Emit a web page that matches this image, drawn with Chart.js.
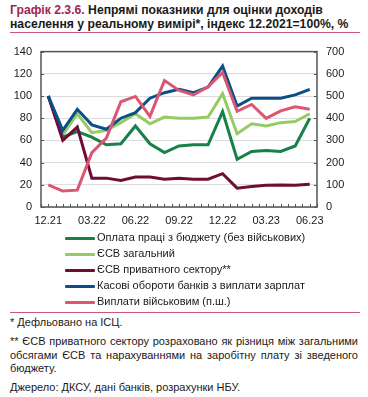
<!DOCTYPE html>
<html><head><meta charset="utf-8">
<script src="https://cdn.jsdelivr.net/npm/chart.js@4/dist/chart.umd.min.js"></script>
<style>
body{margin:0;width:368px;height:397px;background:#fff;font-family:"Liberation Sans",Arial,sans-serif;color:#1a1a1a;position:relative;overflow:hidden}
#title{position:absolute;left:10px;top:3px;font-weight:bold;font-size:12.2px;line-height:14px;width:355px}
#title .n{color:#a3234f}
.rule{position:absolute;left:10px;width:350px;height:1px;background:#c45a73}
#wrap{position:absolute;left:0;top:36px;width:368px;height:196px}
#legend{position:absolute;left:65px;top:230px;font-size:11px}
.li{position:absolute;left:0;height:16px;white-space:nowrap}
.li span.sw{position:absolute;left:0;top:7px;width:30px;height:3px;border-radius:1px}
.li span.tx{position:absolute;left:32px;top:1px}
#notes{position:absolute;left:10px;top:316px;width:348px;font-size:11px;line-height:13.5px}
#notes p{margin:0 0 5.5px 0;text-align:justify}
</style></head><body>
<div id="title"><span class="n">Графік 2.3.6.</span> Непрямі показники для оцінки доходів населення у реальному вимірі*, індекс 12.2021=100%, %</div>
<div class="rule" style="top:32px"></div>
<div id="wrap"><canvas id="c" width="368" height="196"></canvas></div>
<div id="legend"></div>
<div class="rule" style="top:312px"></div>
<div id="notes">
<p>* Дефльовано на ІСЦ.</p>
<p>** ЄСВ приватного сектору розраховано як різниця між загальними обсягами ЄСВ та нарахуваннями на заробітну плату зі зведеного бюджету.</p>
<p>Джерело: ДКСУ, дані банків, розрахунки НБУ.</p>
</div>
<script>
const categories = ["12.21","01.22","02.22","03.22","04.22","05.22","06.22","07.22","08.22","09.22","10.22","11.22","12.22","01.23","02.23","03.23","04.23","05.23","06.23"];
const seriesNames = ["Оплата праці з бюджету (без військових)","ЄСВ загальний","ЄСВ приватного сектору**","Касові обороти банків з виплати зарплат","Виплати військовим (п.ш.)"];
const budgetWages = [100,63,68,63,56,57,73,57,49,55,56,56,86,43,50,51,50,55,80];
const esvTotal = [100,65,84,67,69,76,84,75,81,80,80,81,102,66,75,73,76,77,84];
const esvPrivate = [100,60,72,26,26,24,27,27,25,26,25,25,30,17,18.5,19.5,19.8,19.5,20.6];
const bankSalary = [100,69,88,74,70,80,85,98,103,106,103,108,127,91,98,98,98,101,106];
const militaryPay = [100,72,76,245,310,474,498,408,570,525,505,541,606,431,462,399,433,451,440];
const leftTicks = [0,20,40,60,80,100,120,140];
const rightTicks = [0,100,200,300,400,500,600,700];

const colors = ["#17814a","#95cc62","#6f0d35","#0b4f8a","#dc5671"];
const seriesData = [budgetWages, esvTotal, esvPrivate, bankSalary, militaryPay];
const axesFor = ["y","y","y","y","y1"];

const datasets = seriesData.map((arr,k)=>({
  label: seriesNames[k],
  data: arr.map((v,i)=>({x:i,y:v})),
  borderColor: colors[k],
  backgroundColor: colors[k],
  borderWidth: 3,
  pointRadius: 0,
  tension: 0,
  yAxisID: axesFor[k],
  order: [3,4,2,1,0][k]
}));

const FONT = {family:"'Liberation Sans', Arial, sans-serif", size:11};

const boxPlugin = {
  id:'box',
  afterDraw(chart){
    const {ctx, chartArea:a, scales} = chart;
    ctx.save();
    ctx.strokeStyle = '#555';
    ctx.lineWidth = 1.5;
    ctx.strokeRect(a.left, a.top, a.right-a.left, a.bottom-a.top);
    ctx.lineWidth = 1;
    ctx.strokeStyle = '#555';
    // x inward ticks
    scales.x.ticks.forEach(t=>{
      const px = Math.round(scales.x.getPixelForValue(t.value))+0.5;
      ctx.beginPath(); ctx.moveTo(px, a.bottom); ctx.lineTo(px, a.bottom-3); ctx.stroke();
    });
    scales.y.ticks.forEach(t=>{
      const py = Math.round(scales.y.getPixelForValue(t.value))+0.5;
      ctx.beginPath(); ctx.moveTo(a.left, py); ctx.lineTo(a.left+3, py); ctx.stroke();
    });
    scales.y1.ticks.forEach(t=>{
      const py = Math.round(scales.y1.getPixelForValue(t.value))+0.5;
      ctx.beginPath(); ctx.moveTo(a.right, py); ctx.lineTo(a.right-3, py); ctx.stroke();
    });
    ctx.restore();
  }
};

new Chart(document.getElementById('c'), {
  type:'line',
  data:{datasets},
  plugins:[boxPlugin],
  options:{
    responsive:false,
    animation:false,
    layout:{padding:{top:9,left:0,right:0,bottom:0}},
    plugins:{legend:{display:false},tooltip:{enabled:false}},
    scales:{
      x:{
        type:'linear', min:-0.5, max:18.5,
        afterBuildTicks(s){ const t=[]; for(let v=-0.5; v<=18.5001; v+=0.5) t.push({value:v}); s.ticks=t; },
        afterFit(s){ s.height = 25; },
        grid:{display:false, drawTicks:false},
        border:{display:false},
        ticks:{autoSkip:false, maxRotation:0, padding:7, color:'#1a1a1a', font:FONT,
          callback:(v)=> (Number.isInteger(v) && v%3===0) ? categories[v] : ''}
      },
      y:{
        position:'left', min:0, max:140,
        afterBuildTicks(s){ s.ticks = leftTicks.map(v=>({value:v})); },
        afterFit(s){ s.width = 41; },
        grid:{color:'#dcdcdc', lineWidth:1, drawTicks:false},
        border:{display:false},
        ticks:{padding:9, color:'#1a1a1a', font:FONT}
      },
      y1:{
        position:'right', min:0, max:700,
        afterBuildTicks(s){ s.ticks = rightTicks.map(v=>({value:v})); },
        afterFit(s){ s.width = 51; },
        grid:{display:false, drawTicks:false},
        border:{display:false},
        ticks:{padding:9, color:'#1a1a1a', font:FONT}
      }
    }
  }
});

const lg = document.getElementById('legend');
seriesNames.forEach((n,k)=>{
  const d = document.createElement('div');
  d.className='li'; d.style.top=(k*16)+'px';
  d.innerHTML = '<span class="sw" style="background:'+colors[k]+'"></span><span class="tx">'+n+'</span>';
  lg.appendChild(d);
});
</script>
</body></html>
